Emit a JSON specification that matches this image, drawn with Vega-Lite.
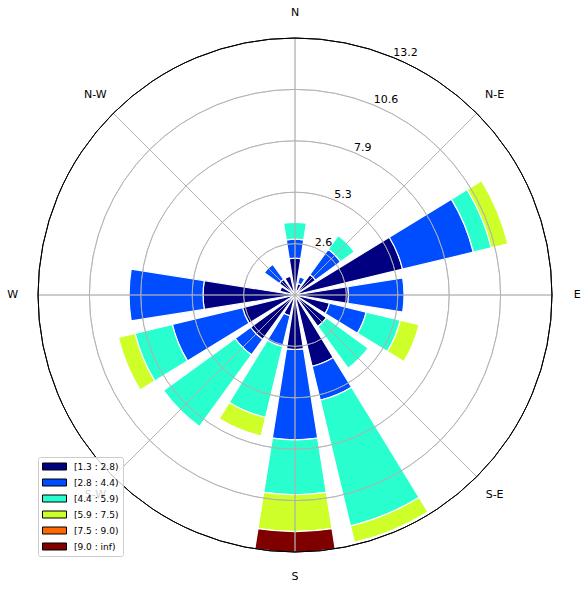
{
  "$schema": "https://vega.github.io/schema/vega-lite/v6.json",
  "width": 590,
  "height": 590,
  "autosize": "none",
  "padding": 0,
  "background": "white",
  "config": {"view": {"stroke": null}, "font": "DejaVu Sans"},
  "datasets": {
    "bars": [
      {"dir": "N", "angle": 0, "speed": "[1.3 : 2.8)", "freq": 1.89},
      {"dir": "N", "angle": 0, "speed": "[2.8 : 4.4)", "freq": 0.98},
      {"dir": "N", "angle": 0, "speed": "[4.4 : 5.9)", "freq": 0.86},
      {"dir": "NNE", "angle": 22.5, "speed": "[1.3 : 2.8)", "freq": 0.6},
      {"dir": "NNE", "angle": 22.5, "speed": "[2.8 : 4.4)", "freq": 0.35},
      {"dir": "NE", "angle": 45, "speed": "[1.3 : 2.8)", "freq": 1.3},
      {"dir": "NE", "angle": 45, "speed": "[2.8 : 4.4)", "freq": 1.6},
      {"dir": "NE", "angle": 45, "speed": "[4.4 : 5.9)", "freq": 0.87},
      {"dir": "ENE", "angle": 67.5, "speed": "[1.3 : 2.8)", "freq": 5.68},
      {"dir": "ENE", "angle": 67.5, "speed": "[2.8 : 4.4)", "freq": 3.74},
      {"dir": "ENE", "angle": 67.5, "speed": "[4.4 : 5.9)", "freq": 0.95},
      {"dir": "ENE", "angle": 67.5, "speed": "[5.9 : 7.5)", "freq": 0.87},
      {"dir": "E", "angle": 90, "speed": "[1.3 : 2.8)", "freq": 2.75},
      {"dir": "E", "angle": 90, "speed": "[2.8 : 4.4)", "freq": 2.85},
      {"dir": "ESE", "angle": 112.5, "speed": "[1.3 : 2.8)", "freq": 1.82},
      {"dir": "ESE", "angle": 112.5, "speed": "[2.8 : 4.4)", "freq": 1.94},
      {"dir": "ESE", "angle": 112.5, "speed": "[4.4 : 5.9)", "freq": 1.8},
      {"dir": "ESE", "angle": 112.5, "speed": "[5.9 : 7.5)", "freq": 0.99},
      {"dir": "SE", "angle": 135, "speed": "[1.3 : 2.8)", "freq": 2.0},
      {"dir": "SE", "angle": 135, "speed": "[4.4 : 5.9)", "freq": 2.65},
      {"dir": "SSE", "angle": 157.5, "speed": "[1.3 : 2.8)", "freq": 3.77},
      {"dir": "SSE", "angle": 157.5, "speed": "[2.8 : 4.4)", "freq": 1.79},
      {"dir": "SSE", "angle": 157.5, "speed": "[4.4 : 5.9)", "freq": 6.64},
      {"dir": "SSE", "angle": 157.5, "speed": "[5.9 : 7.5)", "freq": 0.87},
      {"dir": "S", "angle": 180, "speed": "[1.3 : 2.8)", "freq": 2.8},
      {"dir": "S", "angle": 180, "speed": "[2.8 : 4.4)", "freq": 4.64},
      {"dir": "S", "angle": 180, "speed": "[4.4 : 5.9)", "freq": 2.82},
      {"dir": "S", "angle": 180, "speed": "[5.9 : 7.5)", "freq": 1.89},
      {"dir": "S", "angle": 180, "speed": "[9.0 : inf)", "freq": 1.05},
      {"dir": "SSW", "angle": 202.5, "speed": "[1.3 : 2.8)", "freq": 1.1},
      {"dir": "SSW", "angle": 202.5, "speed": "[2.8 : 4.4)", "freq": 1.62},
      {"dir": "SSW", "angle": 202.5, "speed": "[4.4 : 5.9)", "freq": 3.75},
      {"dir": "SSW", "angle": 202.5, "speed": "[5.9 : 7.5)", "freq": 0.98},
      {"dir": "SW", "angle": 225, "speed": "[1.3 : 2.8)", "freq": 2.82},
      {"dir": "SW", "angle": 225, "speed": "[2.8 : 4.4)", "freq": 0.98},
      {"dir": "SW", "angle": 225, "speed": "[4.4 : 5.9)", "freq": 4.55},
      {"dir": "WSW", "angle": 247.5, "speed": "[1.3 : 2.8)", "freq": 2.77},
      {"dir": "WSW", "angle": 247.5, "speed": "[2.8 : 4.4)", "freq": 3.71},
      {"dir": "WSW", "angle": 247.5, "speed": "[4.4 : 5.9)", "freq": 1.97},
      {"dir": "WSW", "angle": 247.5, "speed": "[5.9 : 7.5)", "freq": 0.88},
      {"dir": "W", "angle": 270, "speed": "[1.3 : 2.8)", "freq": 4.72},
      {"dir": "W", "angle": 270, "speed": "[2.8 : 4.4)", "freq": 3.8},
      {"dir": "WNW", "angle": 292.5, "speed": "[1.3 : 2.8)", "freq": 0.8},
      {"dir": "NW", "angle": 315, "speed": "[1.3 : 2.8)", "freq": 1.0},
      {"dir": "NW", "angle": 315, "speed": "[2.8 : 4.4)", "freq": 0.95},
      {"dir": "NNW", "angle": 337.5, "speed": "[1.3 : 2.8)", "freq": 1.0}
    ],
    "grid": [{"r": 2.64}, {"r": 5.28}, {"r": 7.92}, {"r": 10.56}],
    "spokes": [{"angle": 0}, {"angle": 45}, {"angle": 90}, {"angle": 135}, {"angle": 180}, {"angle": 225}, {"angle": 270}, {"angle": 315}],
    "dirlabels": [
      {"angle": 0, "label": "N"}, {"angle": 45, "label": "N-E"}, {"angle": 90, "label": "E"}, {"angle": 135, "label": "S-E"},
      {"angle": 180, "label": "S"}, {"angle": 225, "label": "S-W"}, {"angle": 270, "label": "W"}, {"angle": 315, "label": "N-W"}
    ],
    "ticks": [{"r": 2.64, "label": "2.6"}, {"r": 5.28, "label": "5.3"}, {"r": 7.92, "label": "7.9"}, {"r": 10.56, "label": "10.6"}, {"r": 13.2, "label": "13.2"}]
  },
  "layer": [
    {
      "data": {"name": "bars"},
      "transform": [
        {"stack": "freq", "groupby": ["angle"], "sort": [{"field": "speed"}], "as": ["r0", "r1"]},
        {"calculate": "datum.angle - 9", "as": "t0"},
        {"calculate": "datum.angle + 9", "as": "t1"}
      ],
      "mark": {"type": "arc", "stroke": "white", "strokeWidth": 1.2},
      "encoding": {
        "theta": {"field": "t0", "type": "quantitative", "stack": null, "scale": {"type": "linear", "domain": [0, 360], "range": [0, 6.283185307]}},
        "theta2": {"field": "t1"},
        "radius": {"field": "r1", "type": "quantitative", "scale": {"type": "linear", "domain": [0, 13.2], "range": [0, 257]}},
        "radius2": {"field": "r0"},
        "color": {
          "field": "speed", "type": "nominal",
          "scale": {"domain": ["[1.3 : 2.8)", "[2.8 : 4.4)", "[4.4 : 5.9)", "[5.9 : 7.5)", "[7.5 : 9.0)", "[9.0 : inf)"],
                    "range": ["#000080", "#004cff", "#29ffce", "#ceff29", "#ff6800", "#800000"]},
          "legend": {
            "title": null, "orient": "none", "legendX": 38, "legendY": 457,
            "symbolType": "M-1,-0.7H3.8V0.7H-1Z", "symbolSize": 100,
            "symbolStrokeColor": "black", "symbolStrokeWidth": 1, "symbolOpacity": 1,
            "labelFont": "DejaVu Sans", "labelFontSize": 9, "labelColor": "black", "labelOffset": 21,
            "rowPadding": 5, "padding": 4,
            "fillColor": "rgba(255,255,255,0.8)", "strokeColor": "#cccccc", "cornerRadius": 2,
            "encode": {"symbols": {"update": {"stroke": {"value": "black"}, "strokeWidth": {"value": 1}}}}
          }
        }
      }
    },
    {
      "data": {"name": "grid"},
      "mark": {"type": "arc", "filled": false, "stroke": "#b0b0b0", "strokeWidth": 0.8},
      "encoding": {
        "theta": {"datum": 0, "type": "quantitative", "scale": {"type": "linear", "domain": [0, 360], "range": [0, 6.283185307]}},
        "theta2": {"datum": 360},
        "radius": {"field": "r", "type": "quantitative", "scale": {"type": "linear", "domain": [0, 13.2], "range": [0, 257]}},
        "radius2": {"field": "r"}
      }
    },
    {
      "data": {"name": "spokes"},
      "mark": {"type": "arc", "filled": false, "stroke": "#b0b0b0", "strokeWidth": 0.8},
      "encoding": {
        "theta": {"field": "angle", "type": "quantitative", "scale": {"type": "linear", "domain": [0, 360], "range": [0, 6.283185307]}},
        "theta2": {"field": "angle"},
        "radius": {"datum": 13.2, "type": "quantitative", "scale": {"type": "linear", "domain": [0, 13.2], "range": [0, 257]}},
        "radius2": {"datum": 0}
      }
    },
    {
      "data": {"values": [{"r": 13.2}]},
      "mark": {"type": "arc", "filled": false, "stroke": "black", "strokeWidth": 1},
      "encoding": {
        "theta": {"datum": 0, "type": "quantitative", "scale": {"type": "linear", "domain": [0, 360], "range": [0, 6.283185307]}},
        "theta2": {"datum": 360},
        "radius": {"field": "r", "type": "quantitative", "scale": {"type": "linear", "domain": [0, 13.2], "range": [0, 257]}},
        "radius2": {"field": "r"}
      }
    },
    {
      "data": {"name": "dirlabels"},
      "mark": {"type": "text", "font": "DejaVu Sans", "fontSize": 11, "align": "center", "baseline": "middle", "color": "black"},
      "encoding": {
        "theta": {"field": "angle", "type": "quantitative", "scale": {"type": "linear", "domain": [0, 360], "range": [0, 6.283185307]}},
        "radius": {"datum": 14.5, "type": "quantitative", "scale": {"type": "linear", "domain": [0, 13.2], "range": [0, 257]}},
        "text": {"field": "label"}
      }
    },
    {
      "data": {"name": "ticks"},
      "mark": {"type": "text", "font": "DejaVu Sans", "fontSize": 11, "align": "left", "baseline": "bottom", "color": "black"},
      "encoding": {
        "theta": {"datum": 22.5, "type": "quantitative", "scale": {"type": "linear", "domain": [0, 360], "range": [0, 6.283185307]}},
        "radius": {"field": "r", "type": "quantitative", "scale": {"type": "linear", "domain": [0, 13.2], "range": [0, 257]}},
        "text": {"field": "label"}
      }
    }
  ]
}
